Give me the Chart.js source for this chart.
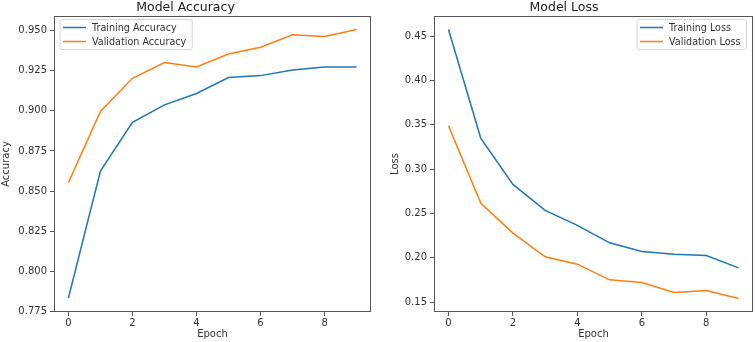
<!DOCTYPE html>
<html>
<head>
<meta charset="utf-8">
<script src="https://cdn.jsdelivr.net/npm/chart.js@4.4.1/dist/chart.umd.min.js"></script>
<style>
  html, body { margin: 0; padding: 0; background: #fff; }
  #wrap { position: relative; width: 755px; height: 342px; overflow: hidden; }
  #accWrap { position: absolute; left: 0; top: 0; width: 375px; height: 342px; }
  #lossWrap { position: absolute; left: 375px; top: 0; width: 380px; height: 342px; }
</style>
</head>
<body>
<div id="wrap">
  <div id="accWrap"><canvas id="accChart"></canvas></div>
  <div id="lossWrap"><canvas id="lossChart"></canvas></div>
</div>
<script>
// valores
const epochs = [0, 1, 2, 3, 4, 5, 6, 7, 8, 9];
const trainAcc = [0.7835, 0.8625, 0.8928, 0.9037, 0.9108, 0.9207, 0.9219, 0.9254, 0.9273, 0.9272];
const valAcc = [0.8553, 0.8996, 0.9202, 0.9300, 0.9273, 0.9353, 0.9396, 0.9473, 0.9463, 0.9506];
const trainLoss = [0.4574, 0.3350, 0.2827, 0.2534, 0.2365, 0.2169, 0.2071, 0.2041, 0.2026, 0.1887];
const valLoss = [0.3489, 0.2616, 0.2278, 0.2011, 0.1928, 0.1752, 0.1722, 0.1608, 0.1631, 0.1541];
const xTicks = [0, 2, 4, 6, 8];
const accTicks = [0.775, 0.800, 0.825, 0.850, 0.875, 0.900, 0.925, 0.950];
const lossTicks = [0.15, 0.20, 0.25, 0.30, 0.35, 0.40, 0.45];

const azul = '#1f77b4';
const laranja = '#ff7f0e';
const fonte = 'DejaVu Sans, sans-serif';
const corTexto = '#333';
const corEixo = '#555';

function pontos(valores) {
    return epochs.map((e, i) => ({ x: e, y: valores[i] }));
}

// moldura completa do eixo (estilo matplotlib)
const molduraPlugin = {
    id: 'moldura',
    afterDatasetsDraw(chart) {
        const a = chart.chartArea;
        const ctx = chart.ctx;
        ctx.save();
        ctx.strokeStyle = corEixo;
        ctx.lineWidth = 1;
        ctx.strokeRect(Math.round(a.left) + 0.5, Math.round(a.top) + 0.5,
            Math.round(a.right - a.left) - 1, Math.round(a.bottom - a.top) - 1);
        ctx.restore();
    }
};

// legenda com caixa, dentro da área do gráfico
const legendaPlugin = {
    id: 'legendaCaixa',
    afterDraw(chart, args, opts) {
        const a = chart.chartArea;
        const ctx = chart.ctx;
        ctx.save();
        ctx.font = '9.6px ' + fonte;
        const sets = chart.data.datasets;
        let largTexto = 0;
        sets.forEach(d => { largTexto = Math.max(largTexto, ctx.measureText(d.label).width); });
        const w = 4 + 23 + 6 + largTexto + 5;
        const h = 30;
        const x = opts.lado === 'direita' ? a.right - 6.5 - w : a.left + 6;
        const y = a.top + 3.5;
        ctx.fillStyle = 'rgba(255,255,255,0.85)';
        ctx.strokeStyle = '#d6d6d6';
        ctx.lineWidth = 1;
        ctx.beginPath();
        ctx.roundRect(x, y, w, h, 2);
        ctx.fill();
        ctx.stroke();
        sets.forEach((d, i) => {
            const ly = y + 8 + i * 14;
            ctx.strokeStyle = d.borderColor;
            ctx.lineWidth = 1.5;
            ctx.beginPath();
            ctx.moveTo(x + 3, ly);
            ctx.lineTo(x + 26, ly);
            ctx.stroke();
            ctx.fillStyle = corTexto;
            ctx.textBaseline = 'middle';
            ctx.fillText(d.label, x + 32, ly + 0.5);
        });
        ctx.restore();
    }
};

function criarGrafico(idCanvas, cfg) {
    const ctx = document.getElementById(idCanvas).getContext('2d');
    return new Chart(ctx, {
        type: 'line',
        data: {
            datasets: [
                { label: cfg.nomes[0], data: pontos(cfg.treino), borderColor: azul, backgroundColor: azul, borderWidth: 1.5, pointRadius: 0, tension: 0 },
                { label: cfg.nomes[1], data: pontos(cfg.validacao), borderColor: laranja, backgroundColor: laranja, borderWidth: 1.5, pointRadius: 0, tension: 0 }
            ]
        },
        plugins: [molduraPlugin, legendaPlugin],
        options: {
            responsive: true,
            maintainAspectRatio: false,
            animation: false,
            layout: { padding: { left: 0, right: cfg.direita, top: 0, bottom: 0 } },
            plugins: {
                legend: { display: false },
                tooltip: { enabled: false },
                title: {
                    display: true,
                    text: cfg.titulo,
                    color: '#222',
                    font: { family: fonte, size: 12.5, weight: 'normal' },
                    padding: { top: 0, bottom: 1 }
                },
                legendaCaixa: { lado: cfg.ladoLegenda }
            },
            scales: {
                x: {
                    type: 'linear',
                    min: -0.45,
                    max: 9.45,
                    afterBuildTicks: scale => { scale.ticks = xTicks.map(v => ({ value: v })); },
                    afterFit: scale => { scale.height = 30; },
                    grid: { display: true, drawOnChartArea: false, drawTicks: true, tickLength: 4, color: corEixo },
                    border: { display: false },
                    ticks: { color: corTexto, font: { family: fonte, size: 10 }, padding: 1, maxRotation: 0, callback: v => String(v) },
                    title: { display: true, text: 'Epoch', color: corTexto, font: { family: fonte, size: 10 }, padding: { top: 0, bottom: 2 } }
                },
                y: {
                    type: 'linear',
                    min: cfg.yMin,
                    max: cfg.yMax,
                    afterBuildTicks: scale => { scale.ticks = cfg.yTicks.map(v => ({ value: v })); },
                    afterFit: scale => { scale.width = cfg.larguraY; },
                    grid: { display: true, drawOnChartArea: false, drawTicks: true, tickLength: 4, color: corEixo },
                    border: { display: false },
                    ticks: { color: corTexto, font: { family: fonte, size: 10 }, padding: 3, callback: v => v.toFixed(cfg.casas) },
                    title: { display: true, text: cfg.tituloY, color: corTexto, font: { family: fonte, size: 10 }, padding: { top: cfg.padTituloY, bottom: 0 } }
                }
            }
        }
    });
}

criarGrafico('accChart', {
    titulo: 'Model Accuracy',
    tituloY: 'Accuracy',
    nomes: ['Training Accuracy', 'Validation Accuracy'],
    treino: trainAcc,
    validacao: valAcc,
    yMin: 0.7748,
    yMax: 0.9590,
    yTicks: accTicks,
    casas: 3,
    larguraY: 54,
    padTituloY: 0,
    direita: 4,
    ladoLegenda: 'esquerda'
});

criarGrafico('lossChart', {
    titulo: 'Model Loss',
    tituloY: 'Loss',
    nomes: ['Training Loss', 'Validation Loss'],
    treino: trainLoss,
    validacao: valLoss,
    yMin: 0.1389,
    yMax: 0.4726,
    yTicks: lossTicks,
    casas: 2,
    larguraY: 59,
    padTituloY: 14,
    direita: 2,
    ladoLegenda: 'direita'
});
</script>
</body>
</html>
